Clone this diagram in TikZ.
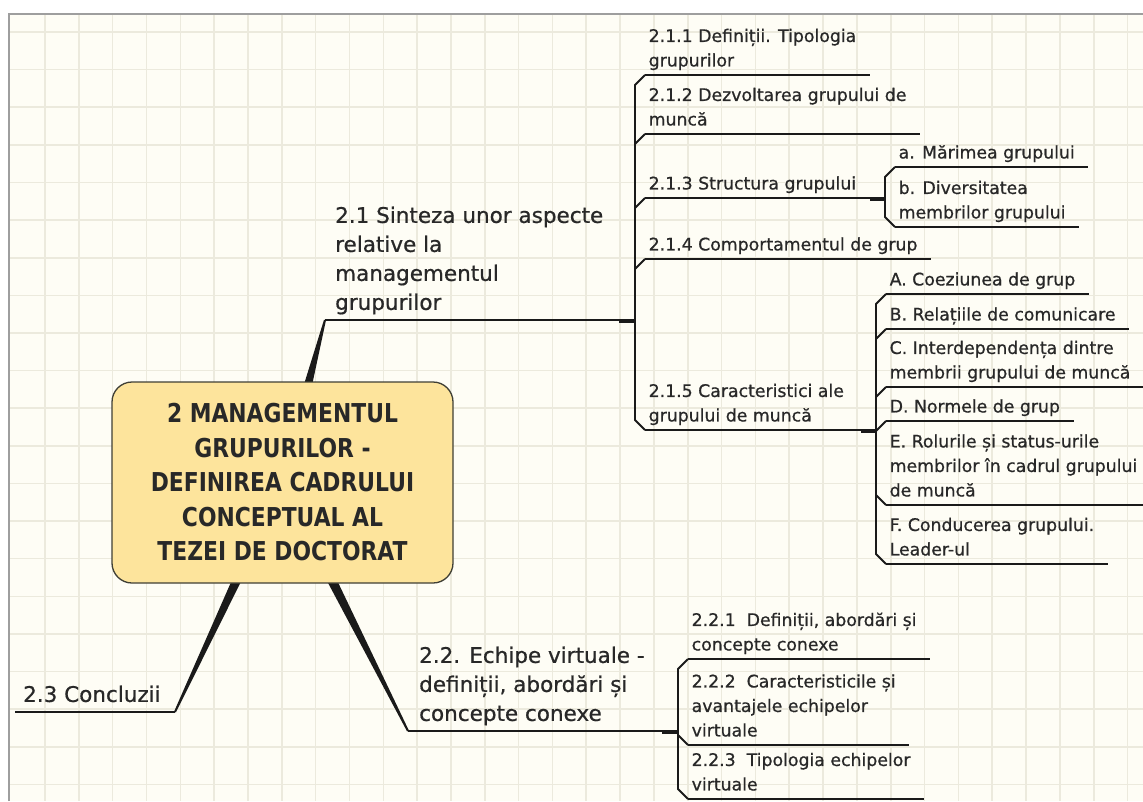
\documentclass[tikz,border=0pt]{standalone}
\usepackage{fontspec}
\setmainfont{DejaVu Sans}[FakeBold=0.7]
\newfontfamily\centralfont{DejaVu Sans}[FakeStretch=0.84]
\usetikzlibrary{calc}

\definecolor{paper}{HTML}{FEFDF5}
\definecolor{gridc}{HTML}{ECEADD}
\definecolor{framec}{HTML}{9E9E9E}
\definecolor{corefill}{HTML}{FDE49C}
\definecolor{coreedge}{HTML}{3F3F35}
\definecolor{ink}{HTML}{282828}
\definecolor{wire}{HTML}{1A1A1A}

\tikzset{
  core/.style={draw=coreedge, line width=1.3pt, fill=corefill, rounded corners=20pt,
    minimum width=341pt, minimum height=201pt, align=center, text=ink, inner sep=0pt,
    font=\centralfont\bfseries\fontsize{26}{34.5}\selectfont},
  maintopic/.style={anchor=south west, align=left, text=ink, inner xsep=2pt, inner ysep=1.2pt,
    font=\fontsize{21.5}{29}\selectfont, execute at end node=\strut},
  subtopic/.style={anchor=south west, align=left, text=ink, inner xsep=3.5pt, inner ysep=1pt,
    font=\fontsize{17.3}{24.5}\selectfont, execute at end node=\strut},
  mainline/.style={draw=wire, line width=2pt},
  subline/.style={draw=wire, line width=1.5pt},
  bracket/.style={draw=wire, line width=1.8pt},
  stub/.style={draw=wire, line width=4pt},
  wedgefill/.style={fill=wire},
  gridline/.style={draw=gridc, line width=1.6pt},
}

% tapered branch from (#1) to (#2), half width #3 at the start
\newcommand\branchwedge[3]{%
  \fill[wedgefill] ($(#1)!#3!90:(#2)$) -- ($(#2)!1pt!-90:(#1)$) --
    ($(#2)!1pt!90:(#1)$) -- ($(#1)!#3!-90:(#2)$) -- cycle;}

% underline below a subtopic, running a little past its text
\newcommand\underl[1]{\draw[subline] (#1.south west) -- ($(#1.south east)+(10,0)$);}

\begin{document}
\begin{tikzpicture}[x=1pt,y=-1pt]
\useasboundingbox (0,0) rectangle (1143,801);

% paper with grid
\fill[white] (0,0) rectangle (1143,801);
\fill[paper] (9,14) rectangle (1143,801);
\foreach \k in {0,...,32} \draw[gridline] ({45+33.83*\k},14) -- ({45+33.83*\k},801);
\foreach \k in {0,...,20} \draw[gridline] (9,{32+37.62*\k}) -- (1143,{32+37.62*\k});
\draw[framec, line width=2pt] (9,801) -- (9,14) -- (1143,14);

% branch ends
\coordinate (hub) at (282.5,482.5);
\coordinate (b21) at (325,320);
\coordinate (b22) at (408,731);
\coordinate (b23) at (175,712);

\branchwedge{hub}{b21}{8.5pt}
\branchwedge{hub}{b22}{7pt}
\branchwedge{hub}{b23}{7pt}

% central topic
\node[core] (core) at (hub) {2 MANAGEMENTUL\\GRUPURILOR -\\DEFINIREA CADRULUI\\CONCEPTUAL AL\\TEZEI DE DOCTORAT};

% main topics
\node[maintopic] (t21) at (333,320) {2.1 Sinteza unor aspecte\\relative la\\managementul\\grupurilor};
\node[maintopic] (t22) at (417,731) {2.2. Echipe virtuale -\\definiții, abordări și\\concepte conexe};
\node[maintopic] (t23) at (21,712) {2.3 Concluzii};

\coordinate (k21) at (635,320);
\coordinate (k22) at (678,731);
\draw[mainline] (b21) -- (k21);
\draw[stub] ($(k21)+(-16,1)$) -- ($(k21)+(0,1)$);
\draw[mainline] (b22) -- (k22);
\draw[stub] ($(k22)+(-16,1)$) -- ($(k22)+(0,1)$);
\draw[mainline] (b23) -- (15,712);

% subtopics of 2.1
\node[subtopic] (s211) at (645,75) {2.1.1 Definiții. Tipologia\\grupurilor};
\node[subtopic] (s212) at (645,134) {2.1.2 Dezvoltarea grupului de\\muncă};
\node[subtopic] (s213) at (645,198) {2.1.3 Structura grupului};
\node[subtopic] (s214) at (645,259) {2.1.4 Comportamentul de grup};
\node[subtopic] (s215) at (645,430) {2.1.5 Caracteristici ale\\grupului de muncă};
\underl{s211}
\underl{s212}
\underl{s214}
\coordinate (k213) at (885,198);
\coordinate (k215) at (876,430);
\draw[subline] (s213.south west) -- (k213);
\draw[stub] ($(k213)+(-15,1)$) -- ($(k213)+(0,1)$);
\draw[subline] (s215.south west) -- (k215);
\draw[stub] ($(k215)+(-15,1)$) -- ($(k215)+(0,1)$);
\draw[bracket] (s211.south west) -- ++(-10,10) -- ($(s215.south west)+(-10,-10)$) -- (s215.south west);
\draw[bracket] (s212.south west) -- ++(-10,10);
\draw[bracket] (s213.south west) -- ++(-10,10);
\draw[bracket] (s214.south west) -- ++(-10,10);

% subtopics of 2.1.3
\node[subtopic] (s213a) at (895,167) {a. Mărimea grupului};
\node[subtopic] (s213b) at (895,227) {b. Diversitatea\\membrilor grupului};
\underl{s213a}
\underl{s213b}
\draw[bracket] (s213a.south west) -- ++(-10,10) -- ($(s213b.south west)+(-10,-10)$) -- (s213b.south west);

% subtopics of 2.1.5
\node[subtopic] (sA) at (886,294) {A. Coeziunea de grup};
\node[subtopic] (sB) at (886,329) {B. Relațiile de comunicare};
\node[subtopic] (sC) at (886,387) {C. Interdependența dintre\\membrii grupului de muncă};
\node[subtopic] (sD) at (886,421) {D. Normele de grup};
\node[subtopic] (sE) at (886,505) {E. Rolurile și status-urile\\membrilor în cadrul grupului\\de muncă};
\node[subtopic] (sF) at (886,564) {F. Conducerea grupului.\\Leader-ul};
\underl{sA}
\underl{sB}
\underl{sC}
\underl{sD}
\underl{sE}
\underl{sF}
\draw[bracket] (sA.south west) -- ++(-10,10) -- ($(sF.south west)+(-10,-10)$) -- (sF.south west);
\draw[bracket] (sB.south west) -- ++(-10,10);
\draw[bracket] (sC.south west) -- ++(-10,10);
\draw[bracket] (sD.south west) -- ++(-10,10);
\draw[bracket] (sE.south west) -- ++(-10,-10);

% subtopics of 2.2
\node[subtopic] (s221) at (688,659) {2.2.1\ \ Definiții, abordări și\\concepte conexe};
\node[subtopic] (s222) at (688,745) {2.2.2\ \ Caracteristicile și\\avantajele echipelor\\virtuale};
\node[subtopic] (s223) at (688,799) {2.2.3\ \ Tipologia echipelor\\virtuale};
\underl{s221}
\underl{s222}
\underl{s223}
\draw[bracket] (s221.south west) -- ++(-10,10) -- ($(s223.south west)+(-10,-10)$) -- (s223.south west);
\draw[bracket] (s222.south west) -- ++(-10,-10);
\end{tikzpicture}
\end{document}
